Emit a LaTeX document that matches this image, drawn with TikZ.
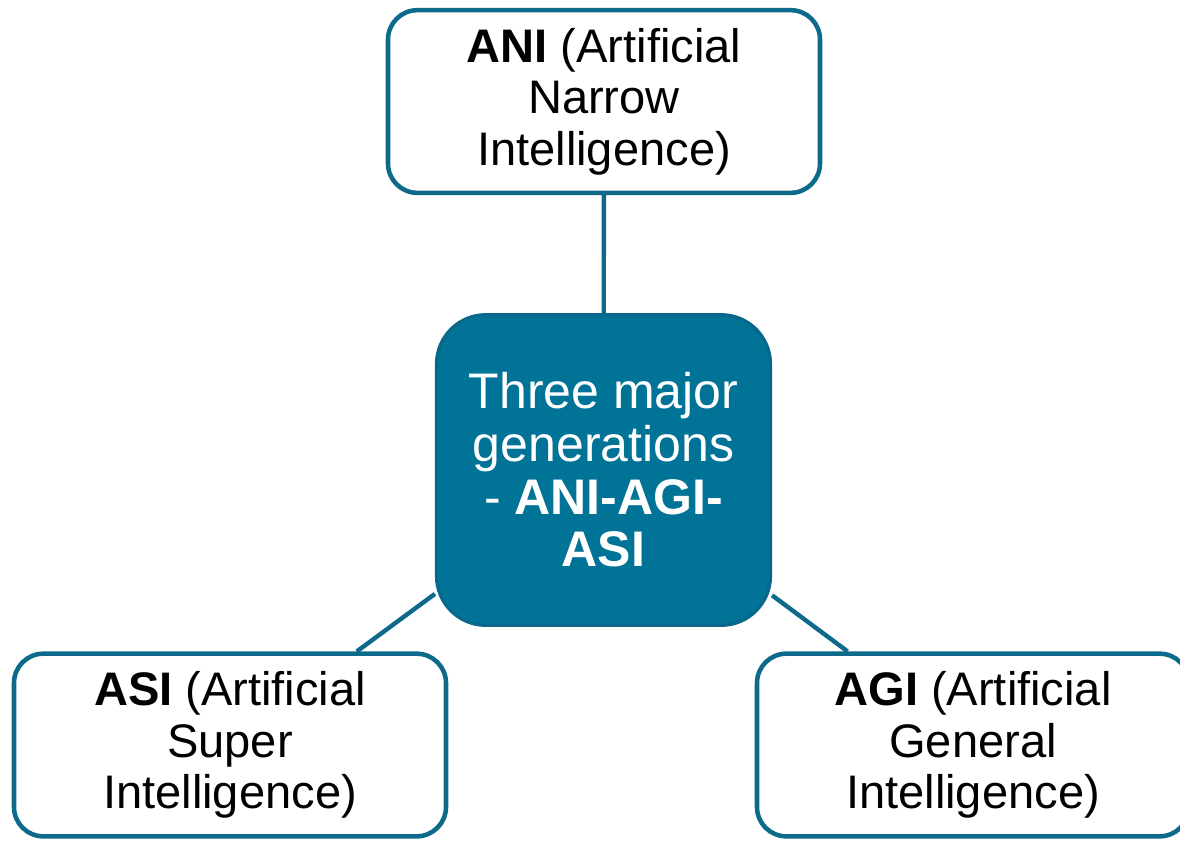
\documentclass[tikz,border=0pt]{standalone}
\usepackage{fontspec}
\setmainfont{Liberation Sans}
\usetikzlibrary{backgrounds}
\definecolor{tealline}{HTML}{0E6A8A}
\definecolor{tealfill}{HTML}{007396}
\definecolor{tealedge}{HTML}{08678A}
\begin{document}
\begin{tikzpicture}[x=0.75pt,y=-0.75pt,
  outerbox/.style={draw=tealline, line width=3.4pt, fill=white, rounded corners=22pt,
    minimum width=324pt, minimum height=137pt, inner sep=0pt, align=center,
    font=\fontsize{35.3}{38.5}\selectfont, text=black},
  centerbox/.style={draw=tealedge, line width=2.4pt, fill=tealfill, rounded corners=37pt,
    minimum width=250.5pt, minimum height=233pt, inner sep=0pt, align=center,
    font=\fontsize{37.5}{39.5}\selectfont, text=white},
  link/.style={draw=tealline, line width=3.3pt}]
\useasboundingbox (0,0) rectangle (1180,840);
\clip (0,0) rectangle (1180,840);
\node[centerbox] (c) at (603.5,470) {Three major\\generations\\- \textbf{ANI-AGI-}\\\textbf{ASI}};
\node[outerbox] (ani) at (604,101.5) {\textbf{ANI} (Artificial\\Narrow\\Intelligence)};
\node[outerbox] (asi) at (230,745) {\textbf{ASI} (Artificial\\Super\\Intelligence)};
\node[outerbox] (agi) at (973,745) {\textbf{AGI} (Artificial\\General\\Intelligence)};
\begin{scope}[on background layer]
\draw[link] (ani) -- (c);
\draw[link] (c) -- (asi);
\draw[link] (c) -- (agi);
\end{scope}
\end{tikzpicture}
\end{document}
